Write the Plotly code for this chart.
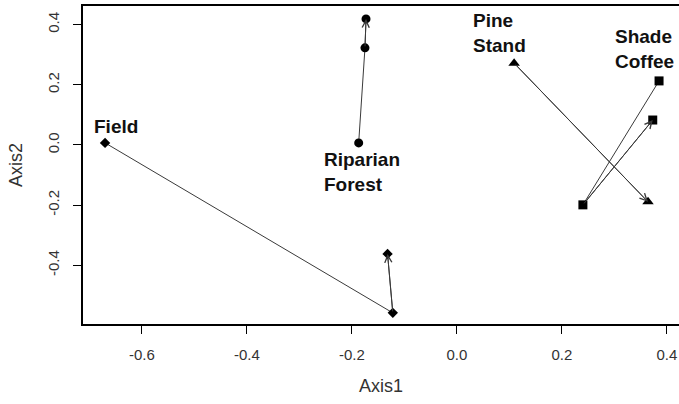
import plotly.graph_objects as go

# Site trajectories (NMDS scores), in sampling order
field_x = [-0.670, -0.122, -0.132]
field_y = [0.007, -0.558, -0.362]
riparian_x = [-0.187, -0.175, -0.173]
riparian_y = [0.007, 0.323, 0.419]
pine_x = [0.109, 0.364]
pine_y = [0.272, -0.189]
coffee_x = [0.385, 0.240, 0.373]
coffee_y = [0.213, -0.199, 0.083]

x_ticks = [-0.6, -0.4, -0.2, 0.0, 0.2, 0.4]
y_ticks = [-0.4, -0.2, 0.0, 0.2, 0.4]

groups = [
    ("Field", field_x, field_y, "diamond", 8),
    ("Riparian Forest", riparian_x, riparian_y, "circle", 9),
    ("Pine Stand", pine_x, pine_y, "triangle-up", 10),
    ("Shade Coffee", coffee_x, coffee_y, "square", 9),
]

labels = [
    ("<b>Field</b>", -0.695, 0.063),
    ("<b>Riparian<br>Forest</b>", -0.257, -0.090),
    ("<b>Pine<br>Stand</b>", 0.027, 0.372),
    ("<b>Shade<br>Coffee</b>", 0.297, 0.319),
]

LINE = "#3a3a3a"
fig = go.Figure()
annotations = []
for name, xs, ys, sym, size in groups:
    fig.add_trace(go.Scatter(x=xs, y=ys, mode="lines",
                             line=dict(color=LINE, width=1), showlegend=False,
                             hoverinfo="skip"))
    annotations.append(dict(x=xs[-1], y=ys[-1], ax=xs[-2], ay=ys[-2],
                            xref="x", yref="y", axref="x", ayref="y",
                            showarrow=True, arrowhead=5, arrowsize=1.4,
                            arrowwidth=1, arrowcolor=LINE, text=""))
for name, xs, ys, sym, size in groups:
    fig.add_trace(go.Scatter(x=xs, y=ys, mode="markers", name=name,
                             marker=dict(symbol=sym, size=size, color="black"),
                             showlegend=False))

for txt, x, y in labels:
    annotations.append(dict(x=x, y=y, xref="x", yref="y", text=txt,
                            showarrow=False, xanchor="left", yanchor="middle",
                            align="left",
                            font=dict(family="Liberation Sans, Arial", size=19,
                                      color="#111")))

fig.update_layout(
    width=679, height=404,
    margin=dict(l=83, r=0, t=6, b=80),
    paper_bgcolor="white", plot_bgcolor="white",
    annotations=annotations,
    font=dict(family="Liberation Sans, Arial", size=15, color="#333"),
)
fig.update_xaxes(range=[-0.712, 0.423], tickvals=x_ticks,
                 ticktext=[f"{v:.1f}" for v in x_ticks],
                 showgrid=False, zeroline=False, showline=True,
                 linecolor="black", linewidth=1.5, mirror=True,
                 ticks="outside", ticklen=8, tickcolor="black",
                 ticklabelstandoff=8,
                 title=dict(text="Axis1", standoff=18))
fig.update_yaxes(range=[-0.595, 0.462], tickvals=y_ticks,
                 ticktext=[f"{v:.1f}" for v in y_ticks],
                 showgrid=False, zeroline=False, showline=True,
                 linecolor="black", linewidth=1.5, mirror=False,
                 ticks="outside", ticklen=8, tickcolor="black",
                 tickangle=-90, ticklabelstandoff=8,
                 title=dict(text="Axis2", standoff=18))

fig.write_html("out.html", config={"displayModeBar": False},
               post_script="document.body.style.margin='0';")
